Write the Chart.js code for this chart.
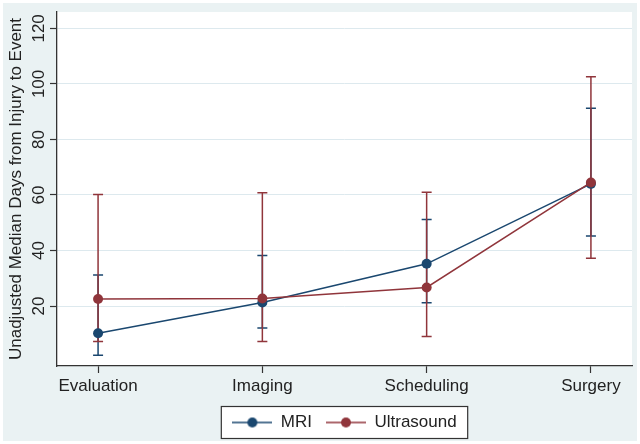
<!DOCTYPE html>
<html><head><meta charset="utf-8">
<script src="https://cdn.jsdelivr.net/npm/chart.js@4"></script>
<style>html,body{margin:0;padding:0;background:#fff}#wrap{width:640px;height:444px;position:relative}</style>
</head><body><div id="wrap"><canvas id="c" width="640" height="444"></canvas></div>
<script>
const categories = ['Evaluation', 'Imaging', 'Scheduling', 'Surgery'];
const mriMedian = [10.2, 21.3, 35.2, 64];
const mriLower = [2.3, 12.1, 21.2, 45.2];
const mriUpper = [31.2, 38.2, 51.2, 91.2];
const usMedian = [22.5, 22.7, 26.7, 64.5];
const usLower = [7.2, 7.2, 9, 37.2];
const usUpper = [60.2, 60.8, 61, 102.6];
const yTicks = [20, 40, 60, 80, 100, 120];
const seriesNames = ['MRI', 'Ultrasound'];

const BLUE = '#1a476f', RED = '#90353b', BG = '#eaf2f3', GRID = '#dde9ee', AX = '#333333', TXT = '#222222';
const FONT = '"Liberation Sans", Arial, sans-serif';

function icon(color) {
  const c = document.createElement('canvas');
  c.width = 40; c.height = 12;
  const g = c.getContext('2d');
  g.strokeStyle = color; g.lineWidth = 1.5;
  g.beginPath(); g.moveTo(0, 6); g.lineTo(40, 6); g.stroke();
  g.fillStyle = color; g.beginPath(); g.arc(20, 6, 5, 0, Math.PI * 2); g.fill();
  return c;
}
const icons = [icon(BLUE), icon(RED)];

const errorBars = {
  id: 'errorBars',
  beforeDatasetsDraw(chart) {
    const {ctx, scales: {x, y}} = chart;
    const sets = [[mriLower, mriUpper, BLUE], [usLower, usUpper, RED]];
    ctx.save();
    ctx.lineWidth = 1.5;
    sets.forEach(([lo, hi, col]) => {
      ctx.strokeStyle = col;
      categories.forEach((c, i) => {
        const px = x.getPixelForValue(i);
        const y0 = y.getPixelForValue(lo[i]), y1 = y.getPixelForValue(hi[i]);
        ctx.beginPath();
        ctx.moveTo(px, y0); ctx.lineTo(px, y1);
        ctx.moveTo(px - 5, y0); ctx.lineTo(px + 5, y0);
        ctx.moveTo(px - 5, y1); ctx.lineTo(px + 5, y1);
        ctx.stroke();
      });
    });
    ctx.restore();
  }
};

const frame = {
  id: 'frame',
  beforeDraw(chart) {
    const {ctx, chartArea: a, width, height} = chart;
    ctx.save();
    ctx.fillStyle = '#ffffff'; ctx.fillRect(0, 0, width, height);
    ctx.fillStyle = BG; ctx.fillRect(3, 3, width - 6, height - 6);
    ctx.fillStyle = '#ffffff'; ctx.fillRect(a.left, a.top, a.right - a.left, a.bottom - a.top);
    const hb = chart.legend.legendHitBoxes;
    if (hb && hb.length) {
      const first = hb[0], last = hb[hb.length - 1];
      const cy = first.top + first.height / 2;
      const x0 = first.left - 11, x1 = last.left + last.width + 11;
      ctx.fillStyle = '#ffffff';
      ctx.fillRect(x0, cy - 16, x1 - x0, 32);
      ctx.strokeStyle = AX; ctx.lineWidth = 1.2;
      ctx.strokeRect(x0, cy - 16, x1 - x0, 32);
    }
    ctx.restore();
  },
  afterDraw(chart) {
    const {ctx, scales: {y}} = chart;
    ctx.save();
    ctx.fillStyle = TXT;
    ctx.font = '17px ' + FONT;
    ctx.textAlign = 'center'; ctx.textBaseline = 'middle';
    yTicks.forEach(v => {
      const py = y.getPixelForValue(v);
      ctx.save(); ctx.translate(39, py); ctx.rotate(-Math.PI / 2);
      ctx.fillText(String(v), 0, 0);
      ctx.restore();
    });
    ctx.restore();
  }
};

new Chart(document.getElementById('c'), {
  type: 'line',
  data: {
    datasets: [
      {label: seriesNames[0], data: categories.map((c, i) => ({x: i, y: mriMedian[i]})),
       borderColor: BLUE, backgroundColor: BLUE, pointBackgroundColor: BLUE, borderWidth: 1.5,
       pointRadius: 5, pointBorderWidth: 0, pointHoverRadius: 5, order: 1},
      {label: seriesNames[1], data: categories.map((c, i) => ({x: i, y: usMedian[i]})),
       borderColor: RED, backgroundColor: RED, pointBackgroundColor: RED, borderWidth: 1.5,
       pointRadius: 5, pointBorderWidth: 0, pointHoverRadius: 5, order: 0}
    ]
  },
  options: {
    responsive: false, animation: false, devicePixelRatio: 1,
    layout: {padding: {top: 12, right: 8, left: 0, bottom: 3}},
    plugins: {
      tooltip: {enabled: false},
      legend: {
        position: 'bottom', fullSize: false,
        labels: {
          font: {family: FONT, size: 17}, color: TXT, usePointStyle: true, pointStyleWidth: 40,
          boxHeight: 12, padding: 14,
          sort: (a, b) => a.datasetIndex - b.datasetIndex,
          generateLabels: chart => Chart.defaults.plugins.legend.labels.generateLabels(chart)
            .map(l => Object.assign({}, l, {pointStyle: icons[l.datasetIndex]}))
        }
      }
    },
    scales: {
      x: {
        type: 'linear', min: -0.25, max: 3.25,
        afterBuildTicks: s => { s.ticks = categories.map((c, i) => ({value: i})); },
        afterFit: s => { s.height = 34; },
        ticks: {callback: v => categories[v], font: {family: FONT, size: 17}, color: TXT, padding: 3, maxRotation: 0, autoSkip: false},
        grid: {drawOnChartArea: false, tickLength: 7, tickColor: AX, tickWidth: 1.2},
        border: {color: AX, width: 1.3}
      },
      y: {
        min: -1.6, max: 125.9,
        afterBuildTicks: s => { s.ticks = yTicks.map(v => ({value: v})); },
        afterFit: s => { s.width = 57; },
        ticks: {display: false},
        grid: {color: GRID, lineWidth: 1, tickLength: 7, tickColor: AX, tickWidth: 1.2},
        border: {color: AX, width: 1.3},
        title: {display: true, text: 'Unadjusted Median Days from Injury to Event',
                font: {family: FONT, size: 17}, color: TXT, padding: {top: 6, bottom: 0}}
      }
    }
  },
  plugins: [frame, errorBars]
});
</script></body></html>
